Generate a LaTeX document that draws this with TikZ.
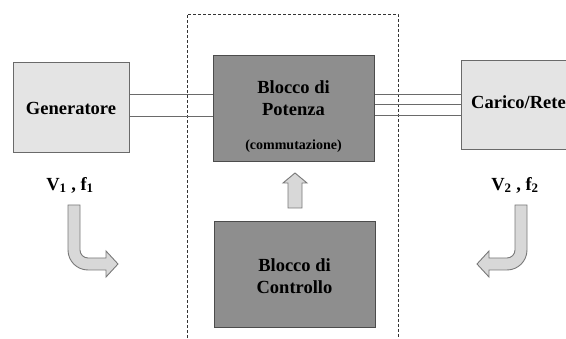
\documentclass[tikz,border=0pt]{standalone}
\usepackage{fontspec}
\setmainfont{Liberation Serif}
\definecolor{lightbox}{HTML}{E4E4E4}
\definecolor{darkbox}{HTML}{8E8E8E}
\definecolor{edge}{HTML}{6A6A6A}
\definecolor{arrowfill}{HTML}{D8D8D8}
\begin{document}
\begin{tikzpicture}[x=1pt,y=1pt,
  lightblk/.style={draw=edge,line width=1pt,fill=lightbox,minimum width=116pt,minimum height=90pt,inner sep=0pt},
  darkblk/.style={draw=black!70,line width=1pt,fill=darkbox,minimum width=161pt,minimum height=106pt,inner sep=0pt},
  lbl/.style={font=\fontsize{18.5}{20}\selectfont\bfseries,inner sep=0pt},
  smalllbl/.style={font=\fontsize{14}{16}\selectfont\bfseries,inner sep=0pt},
  wire/.style={draw=edge,line width=0.8pt},
  fatarrow/.style={draw=edge!90,line width=0.9pt,fill=arrowfill,line join=miter}
]
\clip (0,0) rectangle (566,338);
\fill[white] (0,0) rectangle (566,338);

% dashed frame
\draw[dash pattern=on 3pt off 2pt,line width=0.8pt,black!80] (187,-5) -- (187,324) -- (398,324) -- (398,-5);

% blocks
\node[lightblk] (gen) at (71,230) {};
\node[lbl] (gent) at (71,230) {Generatore};
\node[darkblk] (pot) at (293.5,229) {};
\node[lbl] (pot1) at (293.5,251) {Blocco di};
\node[lbl] (pot2) at (293.5,228) {Potenza};
\node[smalllbl] (pot3) at (293.5,192) {(commutazione)};
\node[darkblk] (ctl) at (294.5,63) {};
\node[lbl] (ctl1) at (294.5,73) {Blocco di};
\node[lbl] (ctl2) at (294.5,51) {Controllo};
\node[lightblk,minimum width=150pt,minimum height=89pt,anchor=west] (car) at (461,232.5) {};
\node[lbl,anchor=west] (cart) at (471,236) {Carico/Rete};

% wires
\draw[wire] (gen.east |- 0,244) -- (pot.west |- 0,244);
\draw[wire] (gen.east |- 0,222) -- (pot.west |- 0,222);
\draw[wire] (pot.east |- 0,244) -- (car.west |- 0,244);
\draw[wire] (pot.east |- 0,234) -- (car.west |- 0,234);
\draw[wire] (pot.east |- 0,223) -- (car.west |- 0,223);

% labels V, f
\node[lbl] (v1) at (70,153) {V\textsubscript{1} , f\textsubscript{1}};
\node[lbl] (v2) at (515,153) {V\textsubscript{2} , f\textsubscript{2}};

% up arrow
\draw[fatarrow] (288,130) -- (288,155) -- (283,155) -- (295,165) -- (307,155) -- (302,155) -- (302,130) -- cycle;

% bent arrows
\draw[fatarrow] (68,133) -- (68,88) arc[start angle=180,end angle=270,radius=20]
  -- (106,68) -- (106,61) -- (118,74) -- (106,87) -- (106,80) -- (88,80)
  arc[start angle=270,end angle=180,radius=8] -- (80,133) -- cycle;
\draw[fatarrow] (527,133) -- (527,88) arc[start angle=0,end angle=-90,radius=20]
  -- (489,68) -- (489,61) -- (477,74) -- (489,87) -- (489,80) -- (507,80)
  arc[start angle=-90,end angle=0,radius=8] -- (515,133) -- cycle;
\end{tikzpicture}
\end{document}
